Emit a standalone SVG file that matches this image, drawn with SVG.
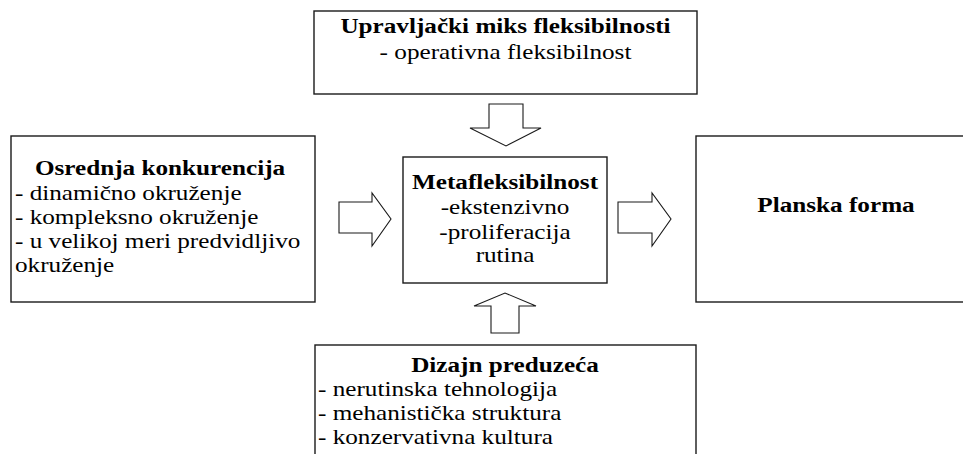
<svg xmlns="http://www.w3.org/2000/svg" width="963" height="454" viewBox="0 0 963 454">
<style>
.box{fill:#fff;stroke:#1a1a1a;stroke-width:1.4}
.arr{fill:#fff;stroke:#1a1a1a;stroke-width:1.1;stroke-linejoin:miter}
text{font-family:'Liberation Serif','DejaVu Serif',serif;font-size:20px;fill:#000}
.b{font-weight:bold}
.c{text-anchor:middle}
</style>
<rect width="963" height="454" fill="#fff"/>
<g id="connectors">
<path class="arr" d="M489,104 H523 V128 H541 L506,146 L470,128 H489 Z"/>
<path class="arr" d="M491,333 H519 V306 H536 L505,293 L474,306 H491 Z"/>
<path class="arr" d="M339,202 H372 V193 L391,219 L372,246 V233 H339 Z"/>
<path class="arr" d="M618,202 H652 V193 L671,219 L652,246 V233 H618 Z"/>
</g>
<g id="top">
<rect class="box" x="314" y="11" width="383" height="83"/>
<text class="b c" transform="translate(505.5,33) scale(1.26,1)">Upravljački miks fleksibilnosti</text>
<text class="c" transform="translate(505.5,59) scale(1.26,1)">- operativna fleksibilnost</text>
</g>
<g id="left">
<rect class="box" x="11" y="136" width="304" height="166"/>
<text class="b c" transform="translate(160,175) scale(1.26,1)">Osrednja konkurencija</text>
<text transform="translate(15,200) scale(1.26,1)">- dinamično okruženje</text>
<text transform="translate(15,224) scale(1.26,1)">- kompleksno okruženje</text>
<text transform="translate(15,248) scale(1.26,1)">- u velikoj meri predvidljivo</text>
<text transform="translate(15,272) scale(1.26,1)">okruženje</text>
</g>
<g id="center">
<rect class="box" x="403" y="157" width="204" height="126"/>
<text class="b c" transform="translate(505,189) scale(1.26,1)">Metafleksibilnost</text>
<text class="c" transform="translate(505,214) scale(1.26,1)">-ekstenzivno</text>
<text class="c" transform="translate(505,239) scale(1.26,1)">-proliferacija</text>
<text class="c" transform="translate(505,262) scale(1.26,1)">rutina</text>
</g>
<g id="right">
<rect class="box" x="696" y="136" width="280" height="166"/>
<text class="b c" transform="translate(836,212) scale(1.26,1)">Planska forma</text>
</g>
<g id="bottom">
<rect class="box" x="315" y="345" width="381" height="130"/>
<text class="b c" transform="translate(505,372) scale(1.26,1)">Dizajn preduzeća</text>
<text transform="translate(318,396) scale(1.26,1)">- nerutinska tehnologija</text>
<text transform="translate(318,420) scale(1.26,1)">- mehanistička struktura</text>
<text transform="translate(318,444) scale(1.26,1)">- konzervativna kultura</text>
</g>
</svg>
